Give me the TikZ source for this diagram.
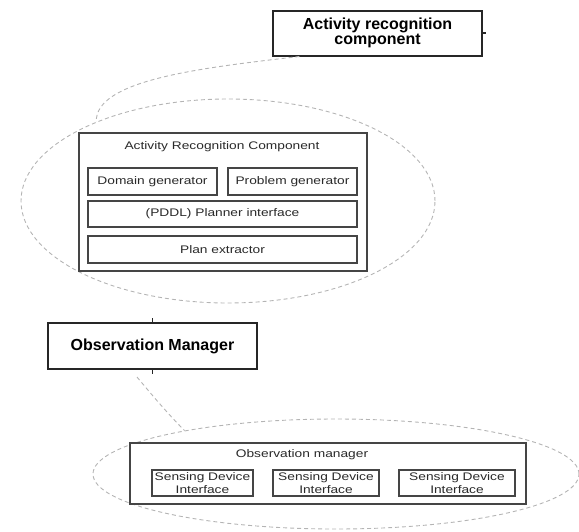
\documentclass[tikz,border=0pt]{standalone}
\usepackage{fontspec}
\setmainfont{Liberation Sans}
\newfontfamily\widesans[FakeStretch=1.25]{Liberation Sans}
\usetikzlibrary{shapes.geometric,calc}
\definecolor{boxdark}{HTML}{262626}
\definecolor{boxgray}{HTML}{454545}
\definecolor{textgray}{HTML}{2A2A2A}
\definecolor{dashgray}{HTML}{B4B4B4}
\begin{document}
\begin{tikzpicture}[x=1pt,y=-1pt,
  heavybox/.style={draw=boxdark, line width=2pt, fill=white, inner sep=0pt,
    text=black, align=center, font=\fontsize{16}{15.5}\selectfont\bfseries},
  lightbox/.style={draw=boxgray, line width=1.3pt, fill=white, inner sep=0pt,
    text=textgray, align=center, font=\widesans\fontsize{11}{13}\selectfont},
  boxtitle/.style={inner sep=0pt, text=textgray, font=\widesans\fontsize{11}{13}\selectfont},
  zoomring/.style={ellipse, draw=dashgray, dash pattern=on 4pt off 3pt,
    line width=0.9pt, inner sep=0pt},
  zoomtail/.style={draw=dashgray, dash pattern=on 4pt off 3pt, line width=0.9pt},
  stub/.style={draw=boxdark, line width=1.5pt}
]
\useasboundingbox (0,0) rectangle (579,531);

% detail rings
\node[zoomring, minimum width=414pt, minimum height=204pt] (ring1) at (228,201) {};
\node[zoomring, minimum width=486pt, minimum height=110pt] (ring2) at (336,474) {};

% top-level blocks
\node[heavybox, minimum width=209pt, minimum height=45pt] (arc) at (377.5,33)
  {Activity recognition\\component};
\node[heavybox, minimum width=209pt, minimum height=46pt] (om) at (152.5,346)
  {Observation Manager};

% activity recognition internals
\node[lightbox, minimum width=288pt, minimum height=138pt] (arcin) at (223,202) {};
\node[boxtitle] (arctitle) at (222,147) {Activity Recognition Component};
\node[lightbox, minimum width=129pt, minimum height=27pt] (dom) at (152.5,181.5) {Domain generator};
\node[lightbox, minimum width=129pt, minimum height=27pt] (prob) at (292.5,181.5) {Problem generator};
\node[lightbox, minimum width=269pt, minimum height=26pt] (pddl) at (222.5,214) {(PDDL) Planner interface};
\node[lightbox, minimum width=269pt, minimum height=27pt] (plan) at (222.5,249.5) {Plan extractor};

% observation manager internals
\node[lightbox, minimum width=396pt, minimum height=61pt] (omin) at (328,473.5) {};
\node[boxtitle] (omtitle) at (302,455) {Observation manager};
\node[lightbox, minimum width=101pt, minimum height=26pt] (sd1) at (202.5,483) {Sensing Device\\Interface};
\node[lightbox, minimum width=106pt, minimum height=26pt] (sd2) at (326,483) {Sensing Device\\Interface};
\node[lightbox, minimum width=116pt, minimum height=26pt] (sd3) at (457,483) {Sensing Device\\Interface};

% tails joining each block to its ring
\coordinate (arctail) at ($(arc.south west)!0.13!(arc.south east)$);
\draw[zoomtail] (arctail) .. controls (200,68) and (95,80) .. (ring1.149);
\coordinate (omtail) at (137,377);
\draw[zoomtail] (omtail) .. controls (152,395) and (168,414) .. (ring2.164);

% connection stubs
\draw[stub] (arc.east) -- ++(3,0);
\draw[stub] (om.north) -- ++(0,-4);
\draw[stub] (om.south) -- ++(0,4);
\end{tikzpicture}
\end{document}
